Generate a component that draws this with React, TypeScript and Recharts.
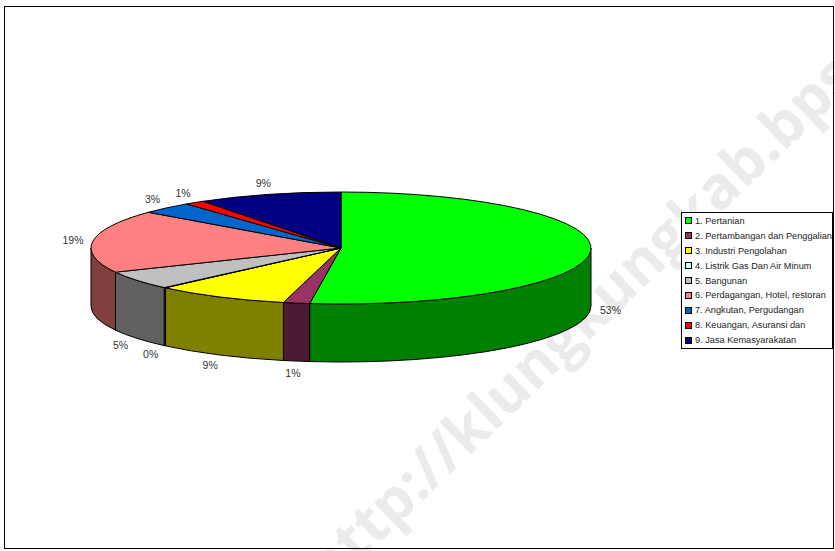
import React from "react";
import { PieChart, Pie, Legend } from "recharts";

const sectors = [
  "1. Pertanian",
  "2. Pertambangan dan Penggalian",
  "3. Industri Pengolahan",
  "4. Listrik Gas Dan Air Minum",
  "5. Bangunan",
  "6. Perdagangan, Hotel, restoran",
  "7. Angkutan, Pergudangan",
  "8. Keuangan, Asuransi dan",
  "9. Jasa Kemasyarakatan",
];
const shares = [52, 1.7, 8.7, 0.1, 5.4, 18.1, 3.4, 1.3, 9.3];
const shareLabels = ["53%", "1%", "9%", "0%", "5%", "19%", "3%", "1%", "9%"];
const topColors = ["#00ff00", "#993366", "#ffff00", "#ccffff", "#c0c0c0", "#ff8080", "#0066cc", "#ff0000", "#000080"];
const wallColors = ["#008000", "#4c1a33", "#808000", "#668080", "#606060", "#804040", "#003366", "#800000", "#000040"];

const chartData = sectors.map((name, i) => ({
  name,
  value: shares[i],
  fill: topColors[i],
  wall: wallColors[i],
}));

const SQUASH = 0.224; // pie tilt: vertical radius / horizontal radius
const DEPTH = 58;
const RAD = Math.PI / 180;

const SlantedSlice = (props: any) => {
  const { cx, cy, outerRadius, startAngle, endAngle, fill, payload } = props;
  const rx = outerRadius;
  const ry = outerRadius * SQUASH;
  const pt = (a: number, dy = 0) =>
    `${cx + rx * Math.cos(a * RAD)} ${cy - ry * Math.sin(a * RAD) + dy}`;
  const large = Math.abs(startAngle - endAngle) > 180 ? 1 : 0;
  const top = `M${cx} ${cy}L${pt(startAngle)}A${rx} ${ry} 0 ${large} 1 ${pt(endAngle)}Z`;

  // only the part of the rim that faces the viewer gets a wall
  const from = Math.min(startAngle, 0);
  const to = Math.max(endAngle, -180);
  const wallColor = payload?.wall ?? props.wall;

  return (
    <g>
      {from > to && (
        <path
          d={`M${pt(from)}A${rx} ${ry} 0 0 1 ${pt(to)}L${pt(to, DEPTH)}A${rx} ${ry} 0 0 0 ${pt(from, DEPTH)}Z`}
          fill={wallColor}
          stroke="#000"
          strokeWidth={1}
        />
      )}
      <path d={top} fill={fill} stroke="#000" strokeWidth={1} strokeLinejoin="round" />
    </g>
  );
};

const renderShareLabel = (props: any) => {
  const { cx, cy, midAngle, outerRadius, index } = props;
  const sin = Math.sin(midAngle * RAD);
  const x = cx + (outerRadius + 20) * Math.cos(midAngle * RAD);
  const y = cy - (outerRadius * SQUASH + 12) * sin + (sin < 0 ? DEPTH : 0);
  return (
    <text
      x={x}
      y={y}
      textAnchor="middle"
      dominantBaseline="central"
      fontFamily="'Liberation Sans', Arial, sans-serif"
      fontSize={10.5}
      fill="#333"
    >
      {shareLabels[index]}
    </text>
  );
};

const LegendBox = () => (
  <div
    style={{
      boxSizing: "border-box",
      width: 152,
      height: 137,
      border: "1px solid #000",
      background: "#fff",
      paddingTop: 0.5,
      fontFamily: "'Liberation Sans', Arial, sans-serif",
      fontSize: 9.2,
      color: "#222",
    }}
  >
    {sectors.map((name, i) => (
      <div key={name} style={{ display: "flex", alignItems: "center", height: 14.9, whiteSpace: "nowrap" }}>
        <span
          style={{
            boxSizing: "border-box",
            width: 7,
            height: 7,
            marginLeft: 3,
            marginRight: 3,
            border: "1px solid #000",
            background: topColors[i],
          }}
        />
        {name}
      </div>
    ))}
  </div>
);

export default function App() {
  return (
    <div style={{ position: "absolute", left: 0, top: 0, width: 835, height: 551, overflow: "hidden", background: "#fff" }}>
      <div
        style={{
          position: "absolute",
          left: 313,
          top: 546,
          transformOrigin: "0 50%",
          transform: "rotate(-44deg)",
          whiteSpace: "nowrap",
          fontFamily: "'Open Sans', sans-serif",
          fontWeight: 700,
          fontSize: 59,
          lineHeight: "59px",
          color: "#ebebeb",
        }}
      >
        http://klungkungkab.bps
      </div>
      <div
        style={{
          position: "absolute",
          left: 4,
          top: 6,
          width: 828,
          height: 541,
          border: "1.5px solid #000",
        }}
      />
      <PieChart
        width={835}
        height={551}
        margin={{ top: 0, right: 0, bottom: 0, left: 0 }}
        style={{ position: "absolute", left: 0, top: 0 }}
        accessibilityLayer={false}
      >
        <Pie
          data={chartData}
          dataKey="value"
          nameKey="name"
          cx={341}
          cy={248}
          outerRadius={250}
          startAngle={90}
          endAngle={-270}
          stroke="#000"
          labelLine={false}
          label={renderShareLabel}
          shape={SlantedSlice}
          activeShape={SlantedSlice}
          isAnimationActive={false}
        />
        <Legend
          layout="vertical"
          align="right"
          verticalAlign="top"
          content={<LegendBox />}
          wrapperStyle={{ left: 681, top: 212, width: 152, height: 137 }}
        />
      </PieChart>
    </div>
  );
}
